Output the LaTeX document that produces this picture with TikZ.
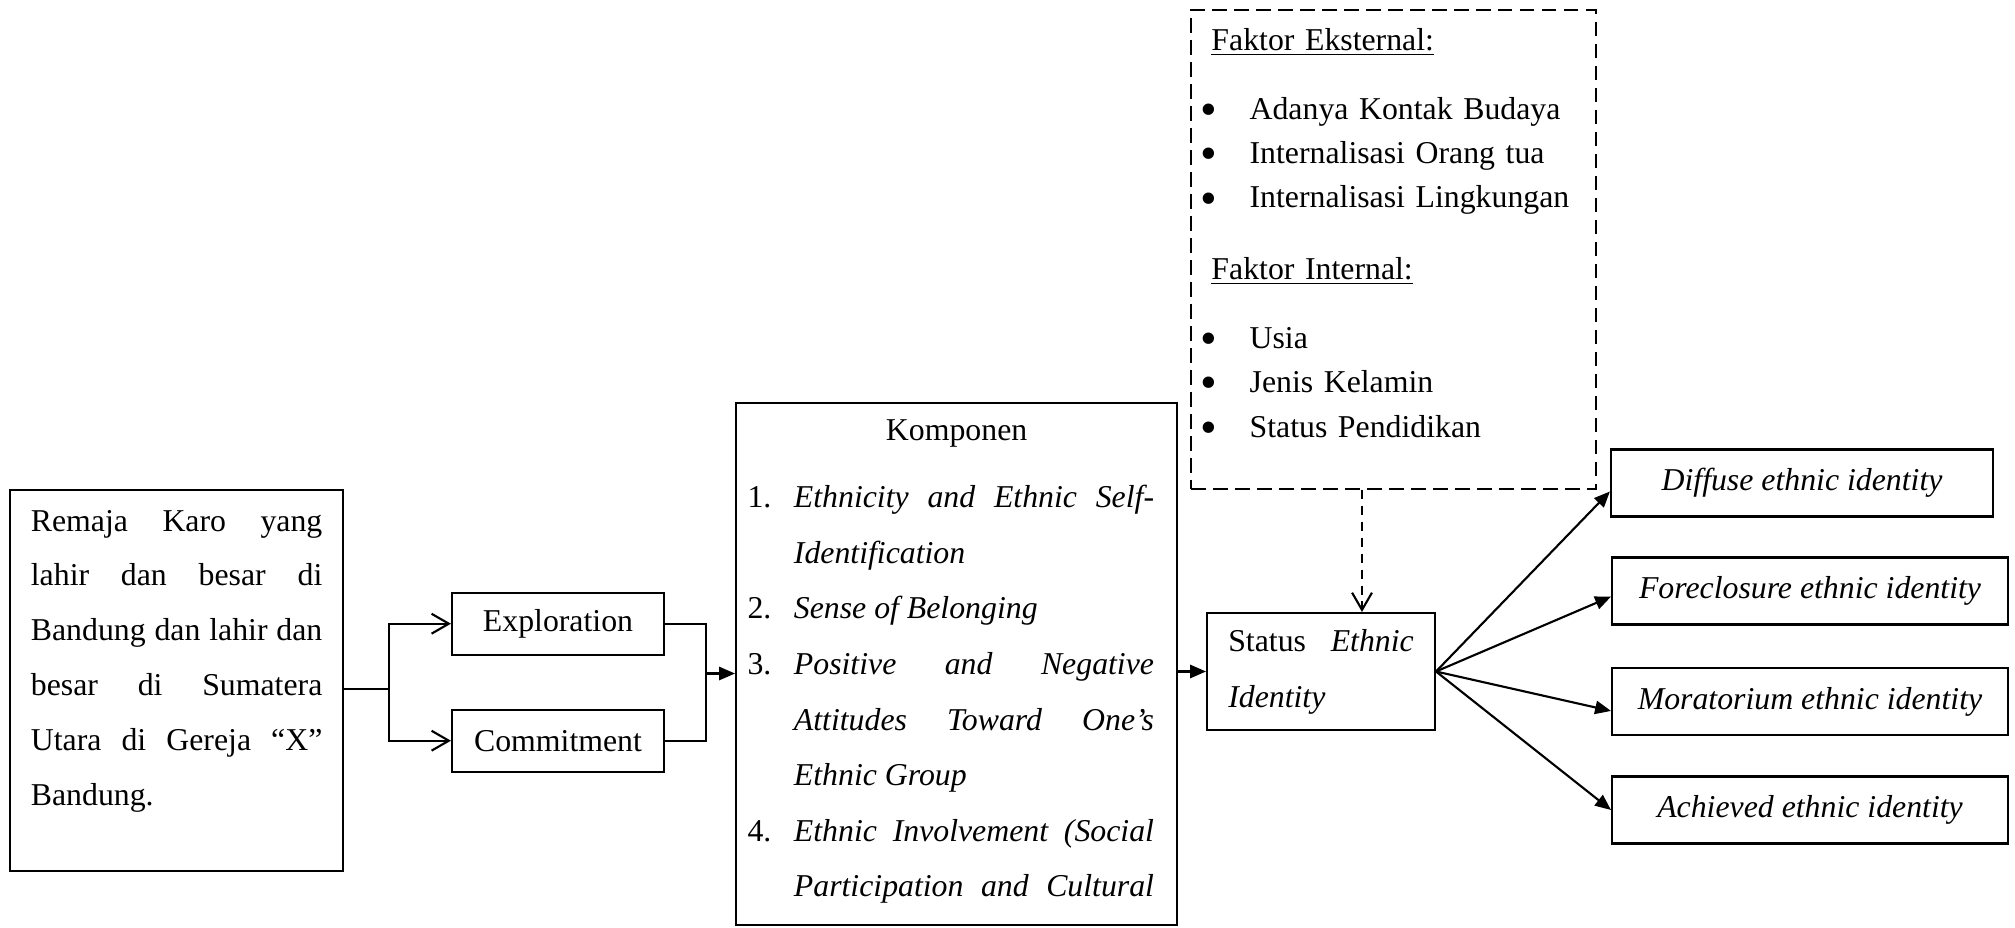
\documentclass[tikz,border=0pt]{standalone}
\usepackage{fontspec}
\usepackage{graphicx}
\setmainfont{Liberation Serif}
\usetikzlibrary{arrows.meta,calc}
\newcommand\fbul{\makebox[18.6pt][l]{\raisebox{-2.3pt}{\scalebox{1.5}{\textbullet}}}}
\newcommand\komitem[2]{\hangindent=17.5pt\hangafter=1\noindent\makebox[17.5pt][l]{#1}\textit{#2}}

\begin{document}
\begin{tikzpicture}[x=0.3774pt, y=-0.3774pt,
  box/.style={draw, line width=0.8pt, inner sep=0pt, font=\fontsize{12}{21}\selectfont},
  textbox/.style={box, align=justify, anchor=north west, inner ysep=0pt},
  idbox/.style={box, minimum width=149.4pt, minimum height=25.3pt, font=\fontsize{12}{14}\itshape},
  dashbox/.style={draw, line width=0.8pt, dash pattern=on 5.5pt off 2.8pt},
  openarrow/.style={line width=0.8pt, -{Straight Barb[length=6.5pt,width=7.5pt]}},
  fillarrow/.style={line width=0.8pt, -{Triangle[length=6pt,width=5pt]}},
  dashedge/.style={openarrow, dash pattern=on 3.5pt off 2.5pt}]
			\useasboundingbox (0,0) rectangle (2015,927);
			\tolerance=10000 \hyphenpenalty=10000
			
			%%%%% LEFT %%%%%
			\node (remaja) [textbox, text width=110pt, inner xsep=7.75pt, text height=15.5pt, text depth=128.3pt, font=\fontsize{12}{20.7}\selectfont] at (9.3,489)
			{Remaja Karo yang\linebreak lahir dan besar di\linebreak Bandung dan lahir dan\linebreak besar di Sumatera\linebreak Utara di Gereja “X”\linebreak Bandung.};
			
			\node (explore) [box, minimum width=80pt, minimum height=23.4pt] at (558,623.7) {Exploration};
			\node (commit) [box, minimum width=80pt, minimum height=23.4pt] at (558,740.7) {Commitment};
			
			%%%%% KOMPONEN %%%%%
			\node (komponen) [textbox, text width=157.8pt, inner xsep=4.34pt, text height=14.3pt, text depth=182.7pt] at (735,402)
			{{\centering Komponen\par}\vspace{4.1pt}\rightskip=4.4pt
			 \komitem{1.}{Ethnicity and Ethnic Self-\linebreak Identification}\par
			 \komitem{2.}{Sense of Belonging}\par
			 \komitem{3.}{Positive and Negative\linebreak Attitudes Toward One’s\linebreak Ethnic Group}\par
			 \komitem{4.}{Ethnic Involvement (Social\linebreak Participation and Cultural}\parfillskip=0pt\par};
			
			%%%%% FAKTOR %%%%%
			\node (faktor) [dashbox, minimum width=152.8pt, minimum height=180.9pt, anchor=north west, inner sep=0pt] at (1190,8.7) {};
			\node (faktortxt) [anchor=north west, text width=148pt, align=left, inner sep=0pt, text height=15.4pt, font=\fontsize{12}{16.75}\selectfont] at (1199.8,8.7)
			{\hspace*{4.2pt}\underline{Faktor Eksternal:}\\[9.35pt]
			 \fbul Adanya Kontak Budaya\\
			 \fbul Internalisasi Orang tua\\
			 \fbul Internalisasi Lingkungan\\[10.15pt]
			 \hspace*{4.2pt}\underline{Faktor Internal:}\\[9.35pt]
			 \fbul Usia\\
			 \fbul Jenis Kelamin\\
			 \fbul Status Pendidikan};
			
			%%%%% STATUS %%%%%
			\node (status) [textbox, text width=70pt, inner xsep=8pt, text height=14.6pt, text depth=29.5pt] at (1206,612)
			{Status \textit{Ethnic}\linebreak\textit{Identity}};
			
			\node (diffuse) [idbox, minimum width=144.2pt] at (1802,483) {Diffuse ethnic identity};
			\node (foreclose) [idbox] at (1810,591) {Foreclosure ethnic identity};
			\node (morat) [idbox] at (1810,701.4) {Moratorium ethnic identity};
			\node (achieve) [idbox] at (1810,810) {Achieved ethnic identity};
			
			%%%%% CONNECTORS %%%%%
			\coordinate (split) at (389,689);
			\coordinate (merge) at (706,673.5);
			\coordinate (drop) at (1362,550);
			\draw[line width=0.8pt] (split -| remaja.east) -- (split);
			\draw[openarrow] (split) |- (explore.west);
			\draw[openarrow] (split) |- (commit.west);
			\draw[line width=0.8pt] (explore.east) -| (merge) |- (commit.east);
			\draw[fillarrow] (merge) -- (merge -| komponen.west);
			\draw[fillarrow] (status.west -| komponen.east) -- (status.west);
			\draw[dashedge] (drop |- faktor.south) -- (drop |- status.north);
			
			\draw[fillarrow] (status.east) -- ([yshift=-3.2pt]diffuse.west);
			\draw[fillarrow] (status.east) -- ([yshift=-2.1pt]foreclose.west);
			\draw[fillarrow] (status.east) -- ([yshift=-3.6pt]morat.west);
			\draw[fillarrow] (status.east) -- (achieve.west);
			%%%%% END %%%%%
\end{tikzpicture}
\end{document}
